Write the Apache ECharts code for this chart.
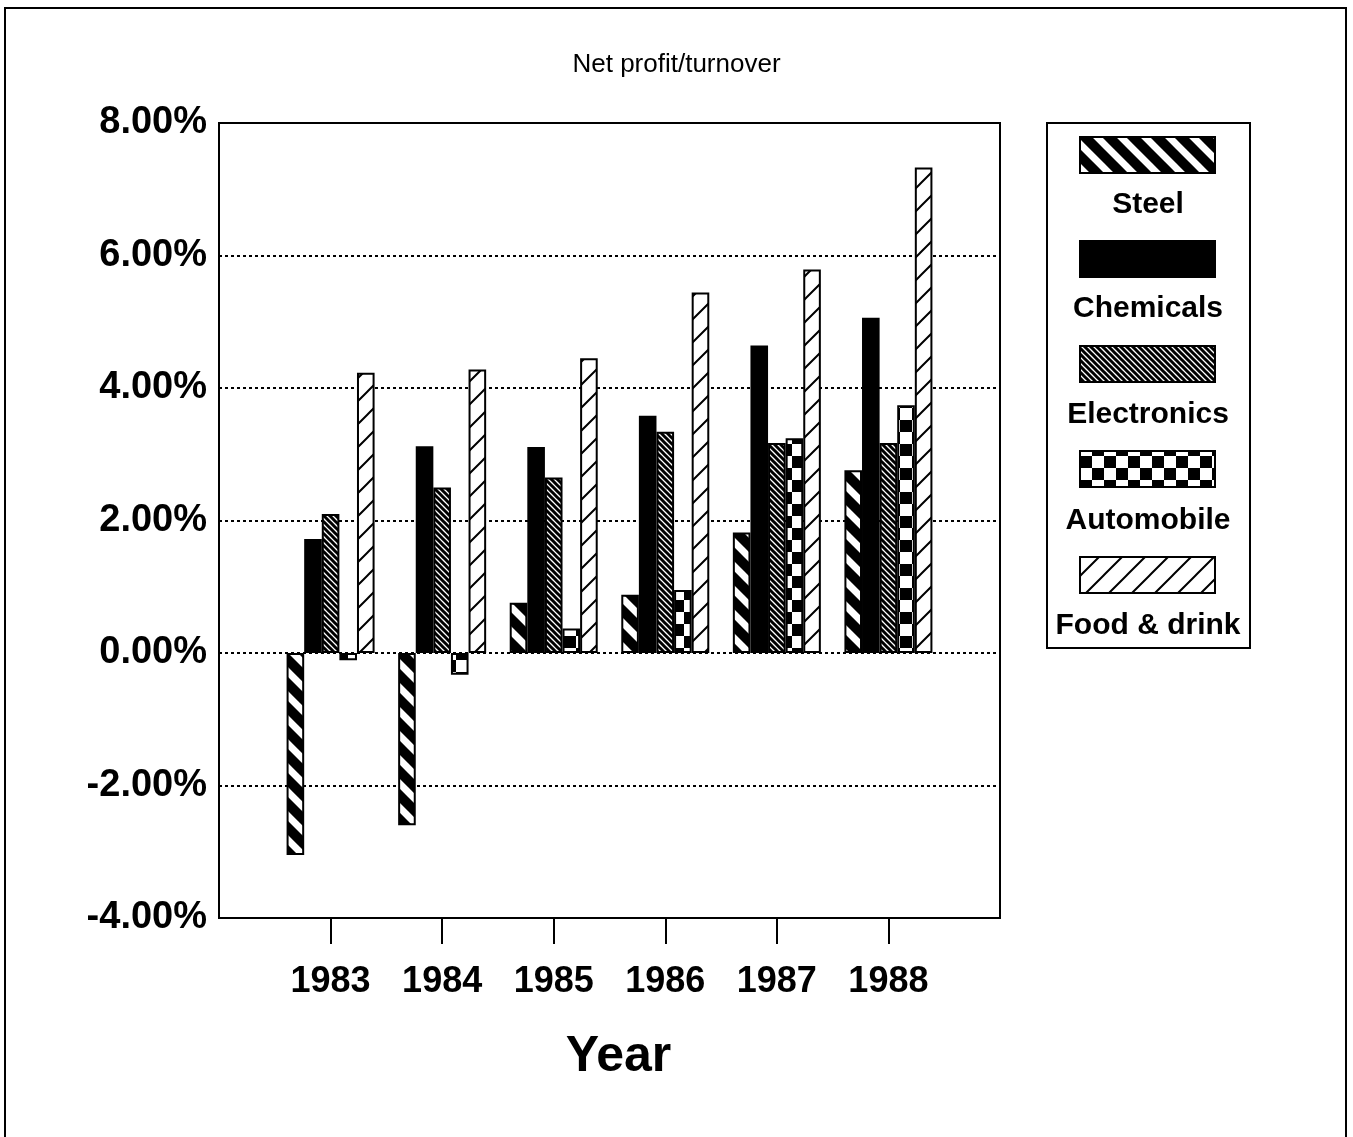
<!DOCTYPE html>
<html>
<head>
<meta charset="utf-8">
<script src="https://cdn.jsdelivr.net/npm/echarts@6/dist/echarts.min.js"></script>
<style>
html,body{margin:0;padding:0;background:#fff;}
#chart{width:1353px;height:1137px;}
</style>
</head>
<body>
<div id="chart"></div>
<script>
const years = ['1983', '1984', '1985', '1986', '1987', '1988'];
const seriesNames = ['Steel', 'Chemicals', 'Electronics', 'Automobile', 'Food & drink'];
const steel = [-3.05, -2.60, 0.76, 0.88, 1.82, 2.76];
const chemicals = [1.72, 3.12, 3.11, 3.58, 4.64, 5.06];
const electronics = [2.10, 2.50, 2.65, 3.34, 3.17, 3.17];
const automobile = [-0.11, -0.33, 0.37, 0.95, 3.24, 3.74];
const food = [4.23, 4.28, 4.45, 5.44, 5.79, 7.33];
const yTicks = [-4, -2, 0, 2, 4, 6, 8];

const FONT = "'Liberation Sans', Arial, Helvetica, sans-serif";

function diag(s, bg, fg, w, dir) {
  const c = document.createElement('canvas');
  c.width = s; c.height = s;
  const g = c.getContext('2d');
  g.fillStyle = bg; g.fillRect(0, 0, s, s);
  g.strokeStyle = fg; g.lineWidth = w; g.beginPath();
  for (let k = -2; k <= 2; k++) {
    if (dir === '\\') { g.moveTo(k * s - s, -s); g.lineTo(k * s + 2 * s, 2 * s); }
    else { g.moveTo(k * s - s, 2 * s); g.lineTo(k * s + 2 * s, -s); }
  }
  g.stroke();
  return c;
}
function checker(sq) {
  const c = document.createElement('canvas');
  c.width = sq * 2; c.height = sq * 2;
  const g = c.getContext('2d');
  g.fillStyle = '#fff'; g.fillRect(0, 0, sq * 2, sq * 2);
  g.fillStyle = '#000';
  g.fillRect(0, 0, sq, sq); g.fillRect(sq, sq, sq, sq);
  return c;
}
const pats = [
  { image: diag(24, '#000', '#fff', 7, '\\'), repeat: 'repeat' },
  '#000',
  { image: diag(6, '#fff', '#000', 3, '\\'), repeat: 'repeat' },
  { image: checker(12), repeat: 'repeat' },
  { image: diag(23, '#fff', '#000', 2, '/'), repeat: 'repeat' }
];
const dataSets = [steel, chemicals, electronics, automobile, food];

const chart = echarts.init(document.getElementById('chart'));

const legendEls = [{
  type: 'rect', shape: { x: 1047, y: 123, width: 203, height: 525 },
  style: { fill: '#fff', stroke: '#000', lineWidth: 2 }, z: 10
}];
const iconY = [137, 241, 346, 451, 557];
const textY = [205, 309, 415, 521, 626];
seriesNames.forEach((n, i) => {
  legendEls.push({
    type: 'rect', shape: { x: 1080, y: iconY[i], width: 135, height: 36 },
    style: { fill: pats[i], stroke: '#000', lineWidth: 2 }, z: 11
  });
  legendEls.push({
    type: 'text', x: 1148, y: textY[i], z: 11,
    style: { text: n, fill: '#000', font: 'bold 30px ' + FONT, textAlign: 'center', textVerticalAlign: 'middle' }
  });
});
legendEls.push({
  type: 'rect', shape: { x: 5, y: 8, width: 1341, height: 1140 },
  style: { fill: 'none', stroke: '#000', lineWidth: 2 }, z: 10, silent: true
});

chart.setOption({
  animation: false,
  backgroundColor: '#fff',
  title: {
    text: 'Net profit/turnover', left: 'center', top: 47,
    textStyle: { fontFamily: FONT, fontSize: 26, fontWeight: 'normal', color: '#000' }
  },
  grid: [
    { left: 219, top: 123, width: 781, height: 795, show: true, borderColor: '#000', borderWidth: 2, backgroundColor: 'transparent' },
    { left: 274.8, top: 123, width: 669.4, height: 795 }
  ],
  xAxis: [
    { type: 'value', gridIndex: 0, min: 0, max: 1, show: false },
    {
      type: 'category', gridIndex: 1, data: years,
      axisLine: { show: false, onZero: false },
      axisTick: { show: true, alignWithLabel: true, length: 26, lineStyle: { color: '#000', width: 2 } },
      axisLabel: { color: '#000', fontFamily: FONT, fontWeight: 'bold', fontSize: 36, margin: 46 },
      name: 'Year', nameLocation: 'middle', nameGap: 114,
      nameTextStyle: { color: '#000', fontFamily: FONT, fontWeight: 'bold', fontSize: 50, padding: [0, 0, 0, 18] }
    }
  ],
  yAxis: [
    {
      type: 'value', gridIndex: 0, min: -4, max: 8, interval: 2,
      axisLine: { show: false }, axisTick: { show: false },
      axisLabel: { color: '#000', fontFamily: FONT, fontWeight: 'bold', fontSize: 38, margin: 12,
        formatter: v => v.toFixed(2) + '%' },
      splitLine: { show: true, lineStyle: { color: '#000', width: 2, type: [3, 3] } }
    },
    { type: 'value', gridIndex: 1, min: -4, max: 8, interval: 2, show: false, splitLine: { show: false } }
  ],
  series: seriesNames.map((n, i) => ({
    name: n, type: 'bar', xAxisIndex: 1, yAxisIndex: 1,
    data: dataSets[i], barWidth: 17.6, barGap: '0%',
    itemStyle: { color: pats[i], borderColor: '#000', borderWidth: 2 }
  })),
  graphic: legendEls
});
</script>
</body>
</html>
